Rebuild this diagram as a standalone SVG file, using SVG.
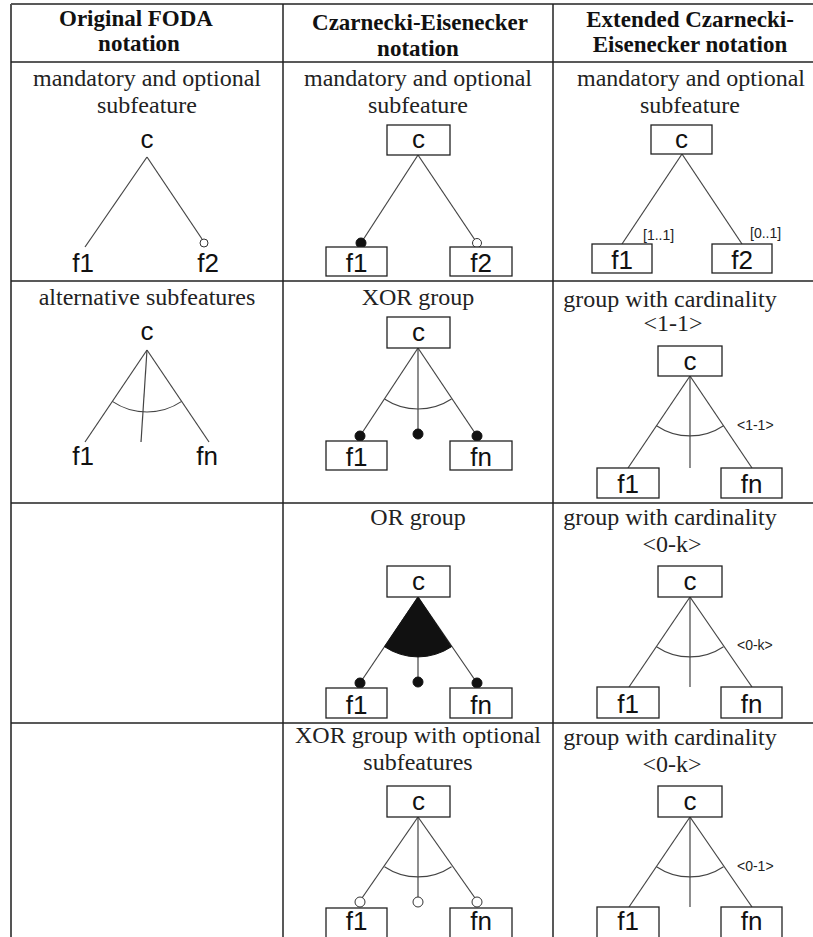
<svg xmlns="http://www.w3.org/2000/svg" width="813" height="937" viewBox="0 0 813 937">
  <style>
    .grid { stroke: #222; stroke-width: 1.5; fill: none; }
    .edge { stroke: #444; stroke-width: 1.2; fill: none; }
    .arc { stroke: #444; stroke-width: 1.1; fill: none; }
    .box { fill: #fff; stroke: #222; stroke-width: 1.3; }
    .man { fill: #111; stroke: #111; stroke-width: 1; }
    .opt { fill: #fff; stroke: #333; stroke-width: 1; }
    .hdr { font-family: "Liberation Serif", "Times New Roman", serif; font-weight: bold; font-size: 23px; fill: #111; text-anchor: middle; }
    .lbl { font-family: "Liberation Serif", "Times New Roman", serif; font-size: 24px; fill: #222; text-anchor: middle; }
    .nm { font-family: "Liberation Sans", Arial, sans-serif; font-size: 26px; fill: #111; text-anchor: middle; }
    .card { font-family: "Liberation Sans", Arial, sans-serif; font-size: 14px; fill: #222; }
  </style>
  <rect width="813" height="937" fill="#fff"/>

  <!-- table grid -->
  <g id="table">
    <line class="grid" x1="11" y1="4" x2="813" y2="4"/>
    <line class="grid" x1="11" y1="4" x2="11" y2="937" style="stroke:#555;stroke-width:2"/>
    <line class="grid" x1="283" y1="4" x2="283" y2="937"/>
    <line class="grid" x1="553" y1="4" x2="553" y2="937"/>
    <line class="grid" x1="11" y1="62" x2="813" y2="62"/>
    <line class="grid" x1="11" y1="281" x2="813" y2="281"/>
    <line class="grid" x1="11" y1="503" x2="813" y2="503"/>
    <line class="grid" x1="11" y1="723" x2="813" y2="723"/>
  </g>

  <!-- column headings -->
  <g id="headings">
    <text class="hdr" x="136" y="26">Original FODA</text>
    <text class="hdr" x="139" y="51">notation</text>
    <text class="hdr" x="420" y="30">Czarnecki-Eisenecker</text>
    <text class="hdr" x="418" y="56">notation</text>
    <text class="hdr" x="690" y="27">Extended Czarnecki-</text>
    <text class="hdr" x="690" y="52">Eisenecker notation</text>
  </g>

  <!-- cell captions -->
  <g id="captions">
    <text class="lbl" x="147" y="86">mandatory and optional</text>
    <text class="lbl" x="147" y="113">subfeature</text>
    <text class="lbl" x="418" y="86">mandatory and optional</text>
    <text class="lbl" x="418" y="113">subfeature</text>
    <text class="lbl" x="691" y="86">mandatory and optional</text>
    <text class="lbl" x="690" y="113">subfeature</text>

    <text class="lbl" x="147" y="305">alternative subfeatures</text>
    <text class="lbl" x="418" y="305">XOR group</text>
    <text class="lbl" x="670" y="307">group with cardinality</text>
    <text class="lbl" x="673" y="331">&lt;1-1&gt;</text>

    <text class="lbl" x="418" y="525">OR group</text>
    <text class="lbl" x="670" y="525">group with cardinality</text>
    <text class="lbl" x="672" y="552">&lt;0-k&gt;</text>

    <text class="lbl" x="418" y="743">XOR group with optional</text>
    <text class="lbl" x="418" y="770">subfeatures</text>
    <text class="lbl" x="670" y="745">group with cardinality</text>
    <text class="lbl" x="672" y="772">&lt;0-k&gt;</text>
  </g>

  <!-- connectors -->
  <g id="connectors">
    <!-- FODA mandatory / optional -->
    <line class="edge" x1="147" y1="157" x2="85" y2="247"/>
    <line class="edge" x1="147" y1="157" x2="202" y2="239"/>
    <circle class="opt" cx="204" cy="243" r="4"/>
    <!-- FODA alternative -->
    <line class="edge" x1="147" y1="350" x2="85" y2="442"/>
    <line class="edge" x1="147" y1="350" x2="141" y2="442"/>
    <line class="edge" x1="147" y1="350" x2="209" y2="442"/>
    <path class="arc" d="M112.3 401.4 A62 62 0 0 0 181.7 401.4"/>

    <!-- CE mandatory / optional -->
    <line class="edge" x1="418" y1="155" x2="361" y2="243"/>
    <line class="edge" x1="418" y1="155" x2="477" y2="243"/>
    <circle class="man" cx="361" cy="243" r="5"/>
    <circle class="opt" cx="477" cy="243" r="4.5"/>
    <!-- CE XOR -->
    <line class="edge" x1="418" y1="348" x2="360" y2="436"/>
    <line class="edge" x1="418" y1="348" x2="418" y2="434"/>
    <line class="edge" x1="418" y1="348" x2="477" y2="436"/>
    <path class="arc" d="M384.5 399 A61 61 0 0 0 451.5 399"/>
    <circle class="man" cx="360" cy="436" r="5"/>
    <circle class="man" cx="418" cy="434" r="5"/>
    <circle class="man" cx="477" cy="436" r="5"/>
    <!-- CE OR -->
    <line class="edge" x1="418" y1="597" x2="360" y2="683"/>
    <line class="edge" x1="418" y1="597" x2="418" y2="682"/>
    <line class="edge" x1="418" y1="597" x2="477" y2="683"/>
    <path d="M418 597 L384.5 646.7 A60 60 0 0 0 451.5 646.7 Z" fill="#111" stroke="#111" stroke-width="1"/>
    <circle class="man" cx="360" cy="683" r="5"/>
    <circle class="man" cx="418" cy="682" r="5"/>
    <circle class="man" cx="477" cy="683" r="5"/>
    <!-- CE XOR with optional -->
    <line class="edge" x1="418" y1="817" x2="362" y2="898"/>
    <line class="edge" x1="418" y1="817" x2="418" y2="897"/>
    <line class="edge" x1="418" y1="817" x2="475" y2="898"/>
    <path class="arc" d="M384.5 866.7 A60 60 0 0 0 451.5 866.7"/>
    <circle class="opt" cx="360" cy="902" r="5"/>
    <circle class="opt" cx="418" cy="902" r="5"/>
    <circle class="opt" cx="477" cy="902" r="5"/>

    <!-- extended CE [1..1] / [0..1] -->
    <line class="edge" x1="682" y1="154" x2="622" y2="244"/>
    <line class="edge" x1="682" y1="154" x2="742" y2="244"/>
    <!-- extended CE <1-1> -->
    <line class="edge" x1="690" y1="376" x2="628" y2="468"/>
    <line class="edge" x1="690" y1="376" x2="690" y2="468"/>
    <line class="edge" x1="690" y1="376" x2="752" y2="468"/>
    <path class="arc" d="M656.5 425.7 A60 60 0 0 0 723.5 425.7"/>
    <!-- extended CE <0-k> -->
    <line class="edge" x1="690" y1="597" x2="629" y2="687"/>
    <line class="edge" x1="690" y1="597" x2="690" y2="687"/>
    <line class="edge" x1="690" y1="597" x2="752" y2="687"/>
    <path class="arc" d="M656.5 646.7 A60 60 0 0 0 723.5 646.7"/>
    <!-- extended CE <0-1> -->
    <line class="edge" x1="690" y1="817" x2="629" y2="907"/>
    <line class="edge" x1="690" y1="817" x2="690" y2="907"/>
    <line class="edge" x1="690" y1="817" x2="752" y2="907"/>
    <path class="arc" d="M656.5 866.7 A60 60 0 0 0 723.5 866.7"/>

    <text class="card" x="643" y="240">[1..1]</text>
    <text class="card" x="750" y="238">[0..1]</text>
    <text class="card" x="737" y="430">&lt;1-1&gt;</text>
    <text class="card" x="737" y="650">&lt;0-k&gt;</text>
    <text class="card" x="737" y="871">&lt;0-1&gt;</text>
  </g>

  <!-- FODA features (no boxes) -->
  <g id="foda-mand-c"><text class="nm" x="147" y="148">c</text></g>
  <g id="foda-mand-f1"><text class="nm" x="83" y="272">f1</text></g>
  <g id="foda-mand-f2"><text class="nm" x="208" y="272">f2</text></g>
  <g id="foda-alt-c"><text class="nm" x="147" y="340">c</text></g>
  <g id="foda-alt-f1"><text class="nm" x="83" y="465">f1</text></g>
  <g id="foda-alt-fn"><text class="nm" x="207" y="465">fn</text></g>

  <!-- Czarnecki-Eisenecker features -->
  <g id="ce-mand-c"><rect class="box" x="387" y="125" width="63" height="30"/><text class="nm" x="418.5" y="148">c</text></g>
  <g id="ce-mand-f1"><rect class="box" x="326" y="247" width="61" height="29"/><text class="nm" x="356.5" y="272">f1</text></g>
  <g id="ce-mand-f2"><rect class="box" x="450" y="247" width="62" height="29"/><text class="nm" x="481" y="272">f2</text></g>

  <g id="ce-xor-c"><rect class="box" x="387" y="317" width="63" height="31"/><text class="nm" x="418.5" y="341">c</text></g>
  <g id="ce-xor-f1"><rect class="box" x="326" y="441" width="61" height="29"/><text class="nm" x="356.5" y="466">f1</text></g>
  <g id="ce-xor-fn"><rect class="box" x="450" y="441" width="62" height="29"/><text class="nm" x="481" y="466">fn</text></g>

  <g id="ce-or-c"><rect class="box" x="387" y="566" width="63" height="31"/><text class="nm" x="418.5" y="590">c</text></g>
  <g id="ce-or-f1"><rect class="box" x="326" y="688" width="61" height="30"/><text class="nm" x="356.5" y="714">f1</text></g>
  <g id="ce-or-fn"><rect class="box" x="450" y="688" width="62" height="30"/><text class="nm" x="481" y="714">fn</text></g>

  <g id="ce-xoropt-c"><rect class="box" x="387" y="786" width="63" height="31"/><text class="nm" x="418.5" y="810">c</text></g>
  <g id="ce-xoropt-f1"><rect class="box" x="326" y="908" width="61" height="30"/><text class="nm" x="356.5" y="930" font-size="25">f1</text></g>
  <g id="ce-xoropt-fn"><rect class="box" x="450" y="908" width="62" height="30"/><text class="nm" x="481" y="930" font-size="25">fn</text></g>

  <!-- extended Czarnecki-Eisenecker features -->
  <g id="ext-mand-c"><rect class="box" x="651" y="125" width="61" height="29"/><text class="nm" x="681.5" y="148">c</text></g>
  <g id="ext-mand-f1"><rect class="box" x="592" y="244" width="60" height="29"/><text class="nm" x="622" y="269">f1</text></g>
  <g id="ext-mand-f2"><rect class="box" x="712" y="244" width="60" height="29"/><text class="nm" x="742" y="269">f2</text></g>

  <g id="ext-11-c"><rect class="box" x="658" y="346" width="64" height="30"/><text class="nm" x="690" y="370">c</text></g>
  <g id="ext-11-f1"><rect class="box" x="597" y="468" width="62" height="30"/><text class="nm" x="628" y="493">f1</text></g>
  <g id="ext-11-fn"><rect class="box" x="721" y="468" width="61" height="30"/><text class="nm" x="751.5" y="493">fn</text></g>

  <g id="ext-0k-c"><rect class="box" x="658" y="566" width="64" height="31"/><text class="nm" x="690" y="590">c</text></g>
  <g id="ext-0k-f1"><rect class="box" x="597" y="687" width="62" height="31"/><text class="nm" x="628" y="713">f1</text></g>
  <g id="ext-0k-fn"><rect class="box" x="721" y="687" width="61" height="31"/><text class="nm" x="751.5" y="713">fn</text></g>

  <g id="ext-01-c"><rect class="box" x="658" y="786" width="64" height="31"/><text class="nm" x="690" y="810">c</text></g>
  <g id="ext-01-f1"><rect class="box" x="597" y="907" width="62" height="31"/><text class="nm" x="628" y="930" font-size="25">f1</text></g>
  <g id="ext-01-fn"><rect class="box" x="721" y="907" width="61" height="31"/><text class="nm" x="751.5" y="930" font-size="25">fn</text></g>
</svg>
